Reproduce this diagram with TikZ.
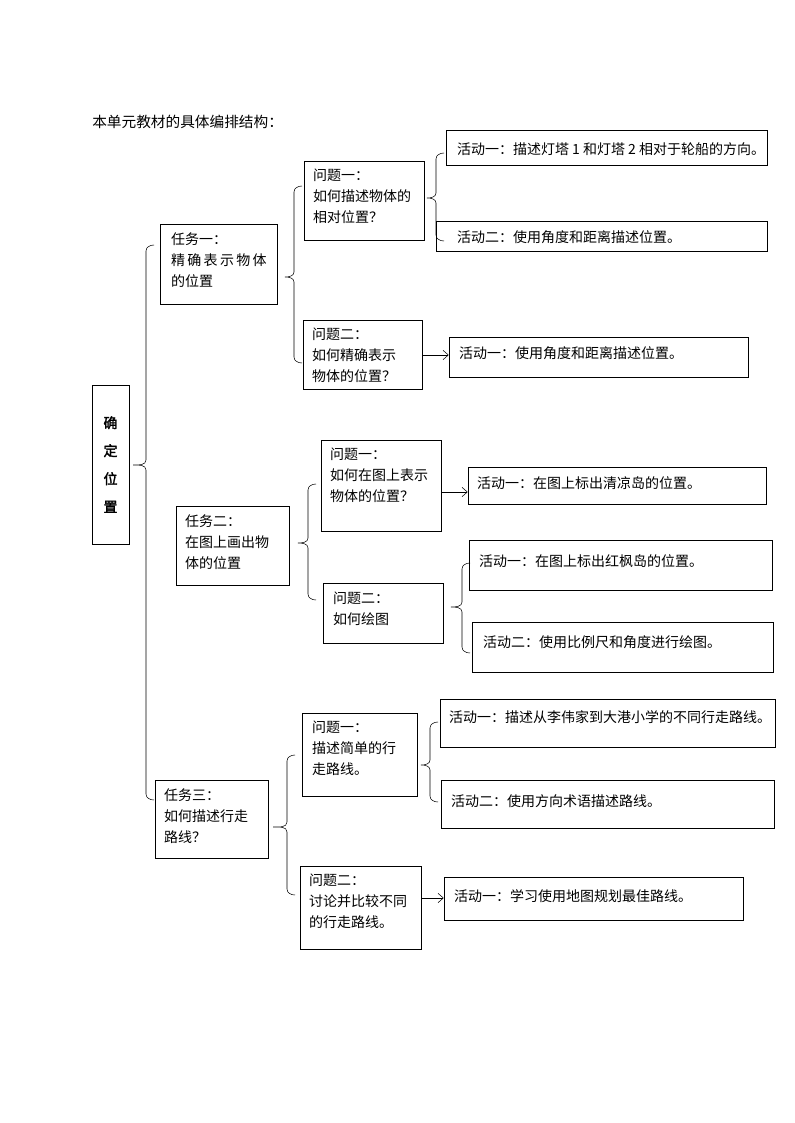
\documentclass[tikz,border=0pt]{standalone}
\usepackage{fontspec}
\setmainfont[AutoFakeBold=2]{Noto Sans CJK SC}
\usetikzlibrary{fit,calc,arrows.meta}

\newcommand\lbr[5]{% spine x, top y, mid y, bottom y, tip x
  \draw[line] (#1+8,#2) to[out=180,in=90] (#1,#2+6) -- (#1,#3-5)
    to[out=-90,in=0] (#5,#3) to[out=0,in=90] (#1,#3+5) -- (#1,#4-6)
    to[out=-90,in=180] (#1+8,#4);}

\begin{document}
\begin{tikzpicture}[x=0.75pt,y=-0.75pt,
  box/.style={draw,thin,inner sep=0pt},
  txt/.style={anchor=north west,align=left,inner sep=0pt,
    font=\fontsize{10.5}{15.6}\selectfont},
  act/.style={anchor=west,inner sep=0pt,font=\fontsize{10.5}{14}\selectfont},
  line/.style={thin},
  arr/.style={thin,-{Straight Barb[length=4pt,width=7pt]}}]

\useasboundingbox (0,0) rectangle (794,1123);

\node[anchor=west,inner sep=0pt,font=\fontsize{11}{14}\selectfont] (title) at (92,122) {本单元教材的具体编排结构：};

% root
\node[box,fit={(92,385)(129,544)}] (root) {};
\node[align=center,inner sep=0pt,font=\bfseries\fontsize{10.5}{21}\selectfont] at (root) {确\\定\\位\\置};

% tasks
\node[box,fit={(160,224)(277,304)}] (t1) {};
\node[txt] at ($(t1.north west)+(11,9)$) {任务一：\\精\,确\,表\,示\,物\,体\\的位置};
\node[box,fit={(176,506)(289,585)}] (t2) {};
\node[txt] at ($(t2.north west)+(9,9)$) {任务二：\\在图上画出物\\体的位置};
\node[box,fit={(155,780)(268,858)}] (t3) {};
\node[txt] at ($(t3.north west)+(9,9)$) {任务三：\\如何描述行走\\路线？};

% questions
\node[box,fit={(304,161)(424,240)}] (q11) {};
\node[txt] at ($(q11.north west)+(9,8)$) {问题一：\\如何描述物体的\\相对位置？};
\node[box,fit={(303,320)(422,389)}] (q12) {};
\node[txt] at ($(q12.north west)+(9,8)$) {问题二：\\如何精确表示\\物体的位置？};
\node[box,fit={(321,440)(441,531)}] (q21) {};
\node[txt] at ($(q21.north west)+(9,8)$) {问题一：\\如何在图上表示\\物体的位置？};
\node[box,fit={(323,583)(443,643)}] (q22) {};
\node[txt] at ($(q22.north west)+(10,9)$) {问题二：\\如何绘图};
\node[box,fit={(302,713)(417,796)}] (q31) {};
\node[txt] at ($(q31.north west)+(10,8)$) {问题一：\\描述简单的行\\走路线。};
\node[box,fit={(300,866)(421,949)}] (q32) {};
\node[txt] at ($(q32.north west)+(9,8)$) {问题二：\\讨论并比较不同\\的行走路线。};

% activities
\node[box,fit={(446,130)(767,165)}] (a111) {};
\node[act] at ($(a111.west)+(11,2)$) {活动一：描述灯塔 1 和灯塔 2 相对于轮船的方向。};
\node[box,fit={(436,221)(767,251)}] (a112) {};
\node[act] at ($(a112.west)+(21,1)$) {活动二：使用角度和距离描述位置。};
\node[box,fit={(449,337)(748,377)}] (a121) {};
\node[act] at ($(a121.west)+(10,-4)$) {活动一：使用角度和距离描述位置。};
\node[box,fit={(468,467)(766,504)}] (a211) {};
\node[act] at ($(a211.west)+(9,-2)$) {活动一：在图上标出清凉岛的位置。};
\node[box,fit={(469,540)(772,590)}] (a221) {};
\node[act] at ($(a221.west)+(10,-4)$) {活动一：在图上标出红枫岛的位置。};
\node[box,fit={(472,622)(773,672)}] (a222) {};
\node[act] at ($(a222.west)+(11,-5)$) {活动二：使用比例尺和角度进行绘图。};
\node[box,fit={(440,699)(775,747)}] (a311) {};
\node[act] at ($(a311.west)+(9,-6)$) {活动一：描述从李伟家到大港小学的不同行走路线。};
\node[box,fit={(441,780)(774,828)}] (a312) {};
\node[act] at ($(a312.west)+(10,-3)$) {活动二：使用方向术语描述路线。};
\node[box,fit={(444,877)(743,920)}] (a321) {};
\node[act] at ($(a321.west)+(10,-2)$) {活动一：学习使用地图规划最佳路线。};

% braces
\lbr{146}{245}{465}{800}{133}
\lbr{294}{186}{277}{363}{285}
\lbr{436}{153}{198}{241}{427}
\lbr{308}{484}{543}{600}{298}
\lbr{462}{563}{607}{653}{451}
\lbr{287}{755}{827}{895}{273}
\lbr{430}{722}{765}{802}{421}

% arrows
\draw[arr] (q12.east |- 0,355) -- (a121.west |- 0,355);
\draw[arr] (q21.east |- 0,492) -- (a211.west |- 0,492);
\draw[arr] (q32.east |- 0,898) -- (a321.west |- 0,898);

\end{tikzpicture}
\end{document}
